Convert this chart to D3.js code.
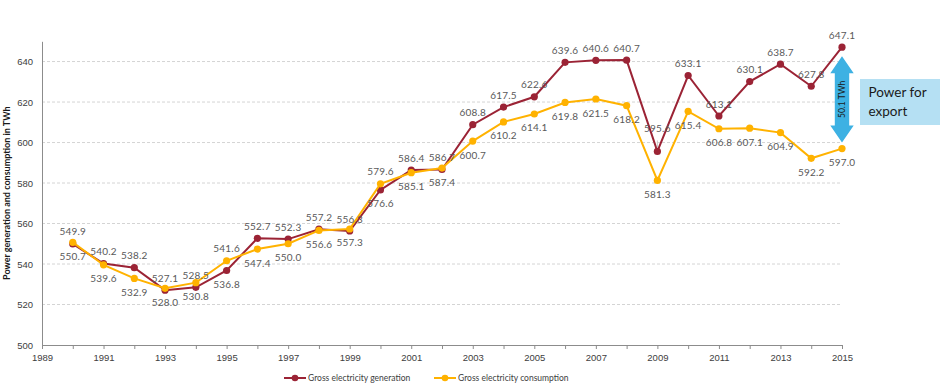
<!DOCTYPE html>
<html>
<head>
<meta charset="utf-8">
<script src="https://cdn.jsdelivr.net/npm/d3@7"></script>
<style>
  html, body { margin: 0; padding: 0; background: #fff; }
  svg { display: block; font-family: Lato, "Liberation Sans", sans-serif; }
</style>
</head>
<body>
<svg id="chart" width="950" height="391"></svg>
<script>
// ---- data ----
const years = [1990,1991,1992,1993,1994,1995,1996,1997,1998,1999,2000,2001,2002,2003,2004,2005,2006,2007,2008,2009,2010,2011,2012,2013,2014,2015];
const generation = [549.9,540.2,538.2,527.1,528.5,536.8,552.7,552.3,557.2,556.3,576.6,586.4,586.7,608.8,617.5,622.6,639.6,640.6,640.7,595.6,633.1,613.1,630.1,638.7,627.8,647.1];
const consumption = [550.7,539.6,532.9,528.0,530.8,541.6,547.4,550.0,556.6,557.3,579.6,585.1,587.4,600.7,610.2,614.1,619.8,621.5,618.2,581.3,615.4,606.8,607.1,604.9,592.2,597.0];
const yTicks = [500,520,540,560,580,600,620,640];
const xTickLabels = [1989,1991,1993,1995,1997,1999,2001,2003,2005,2007,2009,2011,2013,2015];
const seriesNames = ["Gross electricity generation","Gross electricity consumption"];
const yTitle = "Power generation and consumption in TWh";
const exportLabel = "50.1 TWh";
const boxLines = ["Power for","export"];

(function () {
const RED = "#9B2335", YEL = "#FFB200";
const svg = d3.select("#chart");
const x = d3.scaleLinear().domain([1989, 2015]).range([42, 842]);
const y = d3.scaleLinear().domain([500, 650]).range([345, 41.3]);

// gridlines
svg.append("g").selectAll("line").data(yTicks.filter(d => d > 500)).join("line")
  .attr("x1", x(1989)).attr("x2", x(2015))
  .attr("y1", d => y(d)).attr("y2", d => y(d))
  .attr("stroke", "#d4d4d4").attr("stroke-width", 1).attr("stroke-dasharray", "3,2");

// y axis
const yAxis = svg.append("g").attr("transform", `translate(${x(1989)},0)`)
  .call(d3.axisLeft(y).tickValues(yTicks).tickSize(0).tickPadding(9));
yAxis.select(".domain").attr("stroke", "#8c8c8c");
yAxis.selectAll("text").attr("font-size", 9.5).attr("fill", "#404040");

// x axis
const xAxis = svg.append("g").attr("transform", `translate(0,${y(500)})`)
  .call(d3.axisBottom(x).tickValues(d3.range(1989, 2016)).tickSize(4).tickPadding(5)
    .tickFormat(d => xTickLabels.includes(d) ? d : ""));
xAxis.select(".domain").attr("stroke", "#8c8c8c");
xAxis.selectAll("line").attr("stroke", "#8c8c8c");
xAxis.selectAll("text").attr("font-size", 9.5).attr("fill", "#404040");

// y title
svg.append("text").attr("transform", `translate(10,${(y(500)+y(650))/2})rotate(-90)`)
  .attr("text-anchor", "middle").attr("font-size", 9).attr("font-weight", "bold")
  .attr("fill", "#1a1a1a").text(yTitle);

// lines
const line = d3.line().x((d, i) => x(years[i])).y(d => y(d));
[[generation, RED], [consumption, YEL]].forEach(([vals, col]) => {
  svg.append("path").datum(vals).attr("d", line)
    .attr("fill", "none").attr("stroke", col).attr("stroke-width", 2);
  svg.append("g").selectAll("circle").data(vals).join("circle")
    .attr("cx", (d, i) => x(years[i])).attr("cy", d => y(d)).attr("r", 3.6).attr("fill", col);
});

// data labels (the 2009 generation label is lifted with a leader line, as in the original)
const lbl = svg.append("g").attr("font-size", 10).attr("fill", "#595959")
  .attr("text-anchor", "middle").attr("letter-spacing", 0.2);
years.forEach((yr, i) => {
  const swap = consumption[i] - generation[i] > 2.5;
  const above = swap ? consumption[i] : generation[i];
  const below = swap ? generation[i] : consumption[i];
  const lift = (above - below > 10 && i > 0 && generation[i] < generation[i - 1] - 30) ? 11 : 0;
  if (lift) {
    svg.append("line").attr("x1", x(yr)).attr("x2", x(yr))
      .attr("y1", y(above) - 11).attr("y2", y(above) - 4)
      .attr("stroke", "#c8c8c8").attr("stroke-width", 1);
  }
  lbl.append("text").attr("x", x(yr)).attr("y", y(above) - 8.5 - lift).text(above.toFixed(1));
  lbl.append("text").attr("x", x(yr)).attr("y", y(below) + 17.5).text(below.toFixed(1));
});

// export arrow
const last = years.length - 1;
const ax = x(years[last]);
const aTop = y(generation[last]) + 9, aBot = y(consumption[last]) - 6;
const hw = 11.7, sw = 7.2, hh = 17;
svg.append("path")
  .attr("d", `M${ax},${aTop} L${ax+hw},${aTop+hh} L${ax+sw},${aTop+hh} L${ax+sw},${aBot-hh} L${ax+hw},${aBot-hh} L${ax},${aBot} L${ax-hw},${aBot-hh} L${ax-sw},${aBot-hh} L${ax-sw},${aTop+hh} L${ax-hw},${aTop+hh} Z`)
  .attr("fill", "#3DB1E3");
svg.append("text").attr("transform", `translate(${ax+3},${(aTop+aBot)/2})rotate(-90)`)
  .attr("text-anchor", "middle").attr("font-size", 8.5).attr("fill", "#1a1a1a").text(exportLabel);

// export box
svg.append("rect").attr("x", 860).attr("y", 79).attr("width", 80).attr("height", 46).attr("fill", "#B5E0F3");
boxLines.forEach((t, i) => {
  svg.append("text").attr("x", 868.5).attr("y", 97 + i * 18.5)
    .attr("font-size", 13.5).attr("fill", "#1a1a1a").text(t);
});

// legend
const legend = svg.append("g").attr("font-size", 8.5).attr("fill", "#404040");
[[seriesNames[0], RED, 284], [seriesNames[1], YEL, 434]].forEach(([name, col, lx]) => {
  legend.append("line").attr("x1", lx).attr("x2", lx + 22).attr("y1", 378).attr("y2", 378)
    .attr("stroke", col).attr("stroke-width", 2);
  legend.append("circle").attr("cx", lx + 11).attr("cy", 378).attr("r", 3.3).attr("fill", col);
  legend.append("text").attr("x", lx + 24).attr("y", 381).text(name);
});
})();
</script>
</body>
</html>
